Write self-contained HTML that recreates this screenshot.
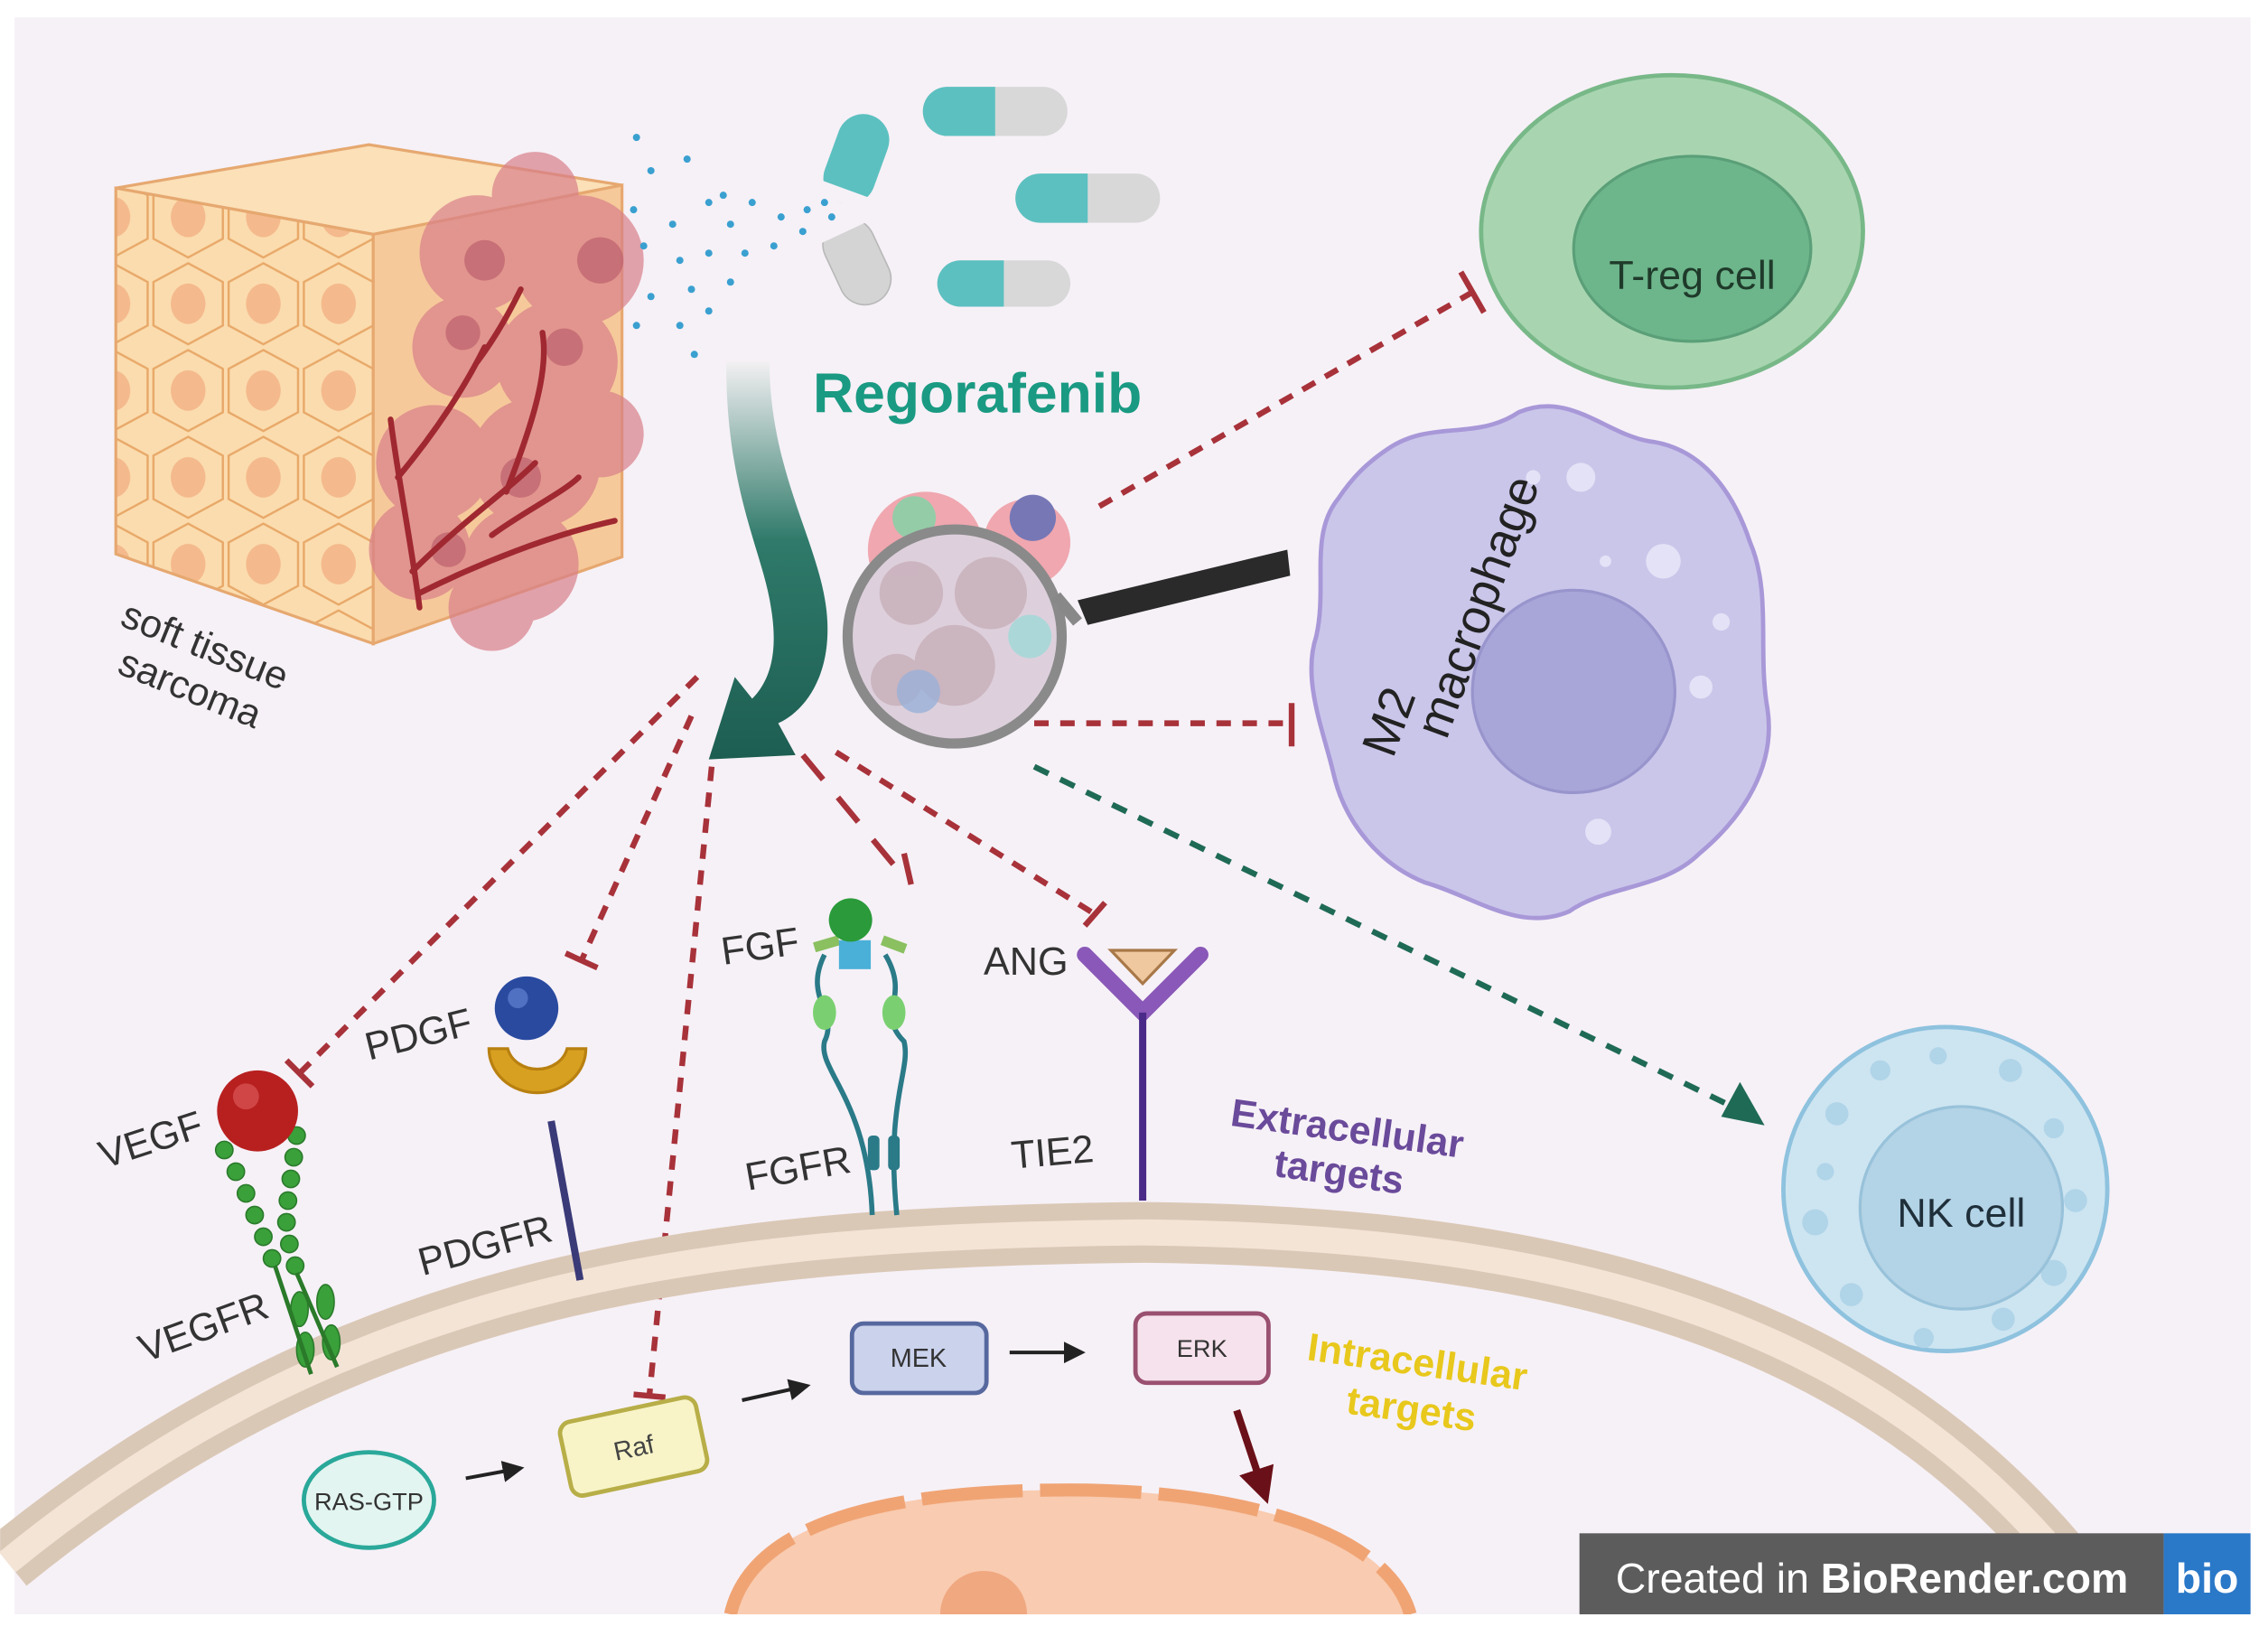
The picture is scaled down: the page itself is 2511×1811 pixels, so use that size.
<!DOCTYPE html>
<html><head><meta charset="utf-8"><style>
html,body{margin:0;padding:0;background:#fff;}
svg{display:block;}
text{font-family:"Liberation Sans",sans-serif;}
</style></head><body>
<svg width="2511" height="1811" viewBox="0 0 1568 1131" xmlns="http://www.w3.org/2000/svg">
<defs>
<clipPath id="pan"><rect x="0" y="12" width="1556" height="1104"/></clipPath>
<linearGradient id="arr" x1="0" y1="0" x2="0" y2="1">
<stop offset="0" stop-color="#f2f0f2"/><stop offset="0.45" stop-color="#2f7a6a"/><stop offset="1" stop-color="#1d5e52"/></linearGradient>
<pattern id="hex" width="52" height="60" patternUnits="userSpaceOnUse">
<rect width="52" height="60" fill="#fbdcae"/>
<polygon points="26,2 50,15 50,45 26,58 2,45 2,15" fill="none" stroke="#e8a868" stroke-width="1.5"/>
<ellipse cx="26" cy="30" rx="12" ry="14" fill="#f4b98c"/>
</pattern>
<marker id="ba" markerWidth="6" markerHeight="6" refX="5" refY="3" orient="auto" markerUnits="strokeWidth"><path d="M0,0 L6,3 L0,6z" fill="#222"/></marker>
<marker id="ra" markerWidth="5" markerHeight="5" refX="4" refY="2.5" orient="auto" markerUnits="strokeWidth"><path d="M0,0 L5,2.5 L0,5z" fill="#6a1018"/></marker>
</defs>
<rect x="0" y="0" width="1568" height="1131" fill="#fff"/>
<rect x="10" y="12" width="1546" height="1104" fill="#f6f1f7"/>

<!-- cube -->
<polygon points="80,130 255,100 430,128 258,162" fill="#fbe0b8" stroke="#e6a870" stroke-width="2"/>
<polygon points="80,130 258,162 258,445 80,383" fill="url(#hex)" stroke="#e6a870" stroke-width="2"/>
<polygon points="258,162 430,128 430,385 258,445" fill="#f6c99a" stroke="#e6a870" stroke-width="2"/>
<g fill="#d9808a" opacity="0.7">
<circle cx="330" cy="175" r="40"/><circle cx="400" cy="180" r="45"/><circle cx="320" cy="240" r="35"/><circle cx="385" cy="250" r="42"/>
<circle cx="300" cy="320" r="40"/><circle cx="370" cy="320" r="45"/><circle cx="290" cy="380" r="35"/><circle cx="360" cy="390" r="40"/>
<circle cx="340" cy="420" r="30"/><circle cx="415" cy="300" r="30"/><circle cx="370" cy="135" r="30"/></g>
<g fill="#b85868" opacity="0.6"><circle cx="335" cy="180" r="14"/><circle cx="415" cy="180" r="16"/><circle cx="390" cy="240" r="13"/><circle cx="320" cy="230" r="12"/><circle cx="360" cy="330" r="14"/><circle cx="310" cy="380" r="12"/></g>
<g stroke="#a02830" stroke-width="4" fill="none" stroke-linecap="round">
<path d="M290,420 C285,380 275,330 270,290"/><path d="M285,395 C320,360 350,340 370,320"/><path d="M290,410 C330,390 380,370 425,360"/>
<path d="M340,370 C360,355 390,340 400,330"/><path d="M275,330 C300,300 320,270 335,240"/><path d="M350,340 C365,300 380,260 375,230"/><path d="M330,250 C345,230 355,210 360,200"/></g>
<text transform="translate(82,432) rotate(22)" font-size="27" fill="#333">soft tissue</text>
<text transform="translate(80,465) rotate(22)" font-size="27" fill="#333">sarcoma</text>

<!-- spray dots -->
<g fill="#3aa0d0">
<circle cx="440" cy="95" r="2.5"/><circle cx="450" cy="118" r="2.5"/><circle cx="475" cy="110" r="2.5"/><circle cx="438" cy="145" r="2.5"/><circle cx="465" cy="155" r="2.5"/><circle cx="490" cy="140" r="2.5"/><circle cx="505" cy="155" r="2.5"/><circle cx="520" cy="140" r="2.5"/><circle cx="540" cy="150" r="2.5"/><circle cx="558" cy="145" r="2.5"/><circle cx="570" cy="140" r="2.5"/><circle cx="575" cy="150" r="2.5"/><circle cx="445" cy="170" r="2.5"/><circle cx="470" cy="180" r="2.5"/><circle cx="490" cy="175" r="2.5"/><circle cx="515" cy="175" r="2.5"/><circle cx="535" cy="170" r="2.5"/><circle cx="555" cy="160" r="2.5"/><circle cx="450" cy="205" r="2.5"/><circle cx="478" cy="200" r="2.5"/><circle cx="505" cy="195" r="2.5"/><circle cx="470" cy="225" r="2.5"/><circle cx="490" cy="215" r="2.5"/><circle cx="480" cy="245" r="2.5"/><circle cx="440" cy="225" r="2.5"/><circle cx="500" cy="135" r="2.5"/></g>

<!-- capsules -->
<g transform="translate(592,110) rotate(20)"><rect x="-18" y="-32" width="36" height="64" rx="18" fill="#5cc0c0"/><rect x="-18" y="22" width="36" height="10" fill="#f6f1f7"/></g>
<g transform="translate(592,180) rotate(-25)"><rect x="-18" y="-30" width="36" height="62" rx="18" fill="#d4d4d4" stroke="#b8b8b8"/><rect x="-19" y="-31" width="38" height="10" fill="#f6f1f7"/></g>
<g><rect x="638" y="60" width="100" height="34" rx="17" fill="#d8d8d8"/><path d="M655,60 H688 V94 H655 A17,17 0 0 1 655,60z" fill="#5cc0c0"/></g>
<g><rect x="702" y="120" width="100" height="34" rx="17" fill="#d8d8d8"/><path d="M719,120 H752 V154 H719 A17,17 0 0 1 719,120z" fill="#5cc0c0"/></g>
<g><rect x="648" y="180" width="92" height="32" rx="16" fill="#d8d8d8"/><path d="M664,180 H694 V212 H664 A16,16 0 0 1 664,180z" fill="#5cc0c0"/></g>
<text x="562" y="285" font-size="39" font-weight="bold" fill="#1a9a82">Regorafenib</text>

<!-- curved arrow -->
<path d="M502,250 L532,250 C532,330 570,380 572,430 C574,475 550,495 538,500 L550,522 L490,525 L508,468 L520,483 C533,470 538,450 533,420 C527,380 502,340 502,250z" fill="url(#arr)"/>

<!-- magnifier -->
<g opacity="0.9"><circle cx="640" cy="380" r="40" fill="#f0a0a8"/><circle cx="710" cy="375" r="30" fill="#f0a0a8"/><circle cx="632" cy="358" r="15" fill="#8ac8a0"/><circle cx="714" cy="358" r="16" fill="#6a6ab0"/></g>
<circle cx="660" cy="440" r="74" fill="#ddd0dc" stroke="#8a8a8a" stroke-width="7"/>
<g fill="#c4aab4" opacity="0.7"><circle cx="630" cy="410" r="22"/><circle cx="685" cy="410" r="25"/><circle cx="660" cy="460" r="28"/><circle cx="620" cy="470" r="18"/></g>
<circle cx="712" cy="440" r="15" fill="#a0d8d8" opacity="0.8"/><circle cx="635" cy="478" r="15" fill="#9ab0d8" opacity="0.8"/>
<path d="M730,412 L745,430" stroke="#888" stroke-width="8"/>
<path d="M745,415 L890,380 L892,398 L752,432z" fill="#2a2a2a"/>

<!-- T-reg -->
<ellipse cx="1156" cy="160" rx="132" ry="108" fill="#a8d5b0" stroke="#78b888" stroke-width="3"/>
<ellipse cx="1170" cy="172" rx="82" ry="64" fill="#6db58b" stroke="#5a9f78" stroke-width="2"/>
<text x="1170" y="200" font-size="28" text-anchor="middle" fill="#1f3a2a">T-reg cell</text>

<!-- M2 macrophage -->
<path d="M960,310 C990,290 1020,305 1050,285 C1085,270 1110,300 1140,305 C1180,310 1200,345 1210,375 C1225,410 1215,450 1222,490 C1228,530 1205,565 1175,590 C1150,615 1110,612 1085,630 C1050,645 1020,620 985,610 C955,598 930,570 922,535 C915,505 900,470 910,440 C918,405 905,370 925,345 C935,330 945,320 960,310z" fill="#cac6ea" stroke="#a898d8" stroke-width="3"/>
<g fill="#e4e2f6"><circle cx="1093" cy="330" r="10"/><circle cx="1150" cy="388" r="12"/><circle cx="1176" cy="475" r="8"/><circle cx="1105" cy="575" r="9"/><circle cx="1060" cy="330" r="5"/><circle cx="1190" cy="430" r="6"/><circle cx="1110" cy="388" r="4"/></g>
<circle cx="1088" cy="478" r="70" fill="#a8a5d8" stroke="#9894cc" stroke-width="2"/>
<text transform="translate(963,525) rotate(-70)" font-size="34" fill="#222">M2</text>
<text transform="translate(1000,512) rotate(-70)" font-size="34" fill="#222">macrophage</text>

<!-- NK cell -->
<circle cx="1345" cy="822" r="112" fill="#cde5f1" stroke="#8ec2de" stroke-width="3"/>
<g fill="#b0d4e8"><circle cx="1270" cy="770" r="8"/><circle cx="1300" cy="740" r="7"/><circle cx="1340" cy="730" r="6"/><circle cx="1390" cy="740" r="8"/><circle cx="1420" cy="780" r="7"/><circle cx="1435" cy="830" r="8"/><circle cx="1420" cy="880" r="9"/><circle cx="1385" cy="912" r="8"/><circle cx="1330" cy="925" r="7"/><circle cx="1280" cy="895" r="8"/><circle cx="1255" cy="845" r="9"/><circle cx="1262" cy="810" r="6"/></g>
<circle cx="1356" cy="835" r="70" fill="#b3d3e6" stroke="#98c2da" stroke-width="2"/>
<text x="1356" y="848" font-size="28" text-anchor="middle" fill="#1f2f3a">NK cell</text>

<!-- dashed inhibitory lines -->
<g stroke="#a8323a" stroke-width="4" fill="none" stroke-dasharray="10,8">
<path d="M760,350 L1018,202"/><path d="M715,500 L890,500"/>
<path d="M482,468 L207,742"/><path d="M478,495 L402,664"/><path d="M492,530 L449,964"/>
<path d="M578,520 L757,632"/></g>
<path d="M555,522 L618,598 M625,590 L630,612" stroke="#a8323a" stroke-width="4" stroke-dasharray="22,16" fill="none"/>
<g stroke="#a8323a" stroke-width="4">
<path d="M1010,188 L1026,216"/><path d="M893,486 L893,516"/><path d="M198,733 L216,751"/><path d="M391,659 L413,669"/><path d="M438,964 L460,966"/><path d="M750,640 L764,624"/></g>
<path d="M715,530 L1212,772" stroke="#1f6a55" stroke-width="4" stroke-dasharray="11,9" fill="none"/>
<path d="M1220,778 L1190,772 L1203,748z" fill="#1f6a55"/>

<g clip-path="url(#pan)">
<!-- membrane -->
<path d="M5,1080 C250,880 500,855 790,852 C1100,855 1310,920 1450,1110" fill="none" stroke="#dac8b6" stroke-width="42"/>
<path d="M5,1080 C250,880 500,855 790,852 C1100,855 1310,920 1450,1110" fill="none" stroke="#f4e4d6" stroke-width="18"/>
<!-- nucleus -->
<path d="M505,1116 C520,1050 620,1030 740,1030 C860,1030 960,1060 975,1116z" fill="#f9cbb0"/>
<path d="M505,1116 C520,1050 620,1030 740,1030 C860,1030 960,1060 975,1116" fill="none" stroke="#f0a474" stroke-width="9" stroke-dasharray="70,12"/>
<circle cx="680" cy="1116" r="30" fill="#f0a880"/>
</g>

<!-- receptors -->
<g fill="#3aa03a" stroke="#2a7a2a" stroke-width="1">
<circle cx="155" cy="795" r="6"/><circle cx="163" cy="810" r="6"/><circle cx="170" cy="825" r="6"/><circle cx="176" cy="840" r="6"/><circle cx="182" cy="855" r="6"/><circle cx="188" cy="870" r="6"/>
<circle cx="205" cy="785" r="6"/><circle cx="203" cy="800" r="6"/><circle cx="201" cy="815" r="6"/><circle cx="199" cy="830" r="6"/><circle cx="198" cy="845" r="6"/><circle cx="200" cy="860" r="6"/><circle cx="204" cy="875" r="6"/>
<ellipse cx="207" cy="905" rx="6" ry="12"/><ellipse cx="211" cy="933" rx="6" ry="12"/><ellipse cx="225" cy="900" rx="6" ry="12"/><ellipse cx="229" cy="928" rx="6" ry="12"/></g>
<path d="M190,875 L215,950 M205,880 L233,945" stroke="#2a7a2a" stroke-width="3"/>
<circle cx="178" cy="768" r="28" fill="#b82020"/><circle cx="170" cy="758" r="9" fill="#e06060" opacity="0.6"/>
<path d="M338,725 A33,30 0 0 0 405,725 L392,725 A21,18 0 0 1 351,725z" fill="#d8a020" stroke="#b88010" stroke-width="2"/>
<circle cx="364" cy="697" r="22" fill="#2a4aa0"/><circle cx="358" cy="690" r="7" fill="#6a8ad8" opacity="0.6"/>
<path d="M381,775 L401,885" stroke="#3a3a78" stroke-width="5"/>
<path d="M570,660 C555,690 580,700 570,720 C565,740 600,760 603,840 M612,660 C630,690 605,700 625,720 C630,740 612,760 620,840" stroke="#2a7a88" stroke-width="3.5" fill="none"/>
<path d="M563,655 L580,650 M610,650 L626,656" stroke="#8ac060" stroke-width="7"/>
<rect x="580" y="650" width="22" height="20" fill="#4ab0d8"/>
<ellipse cx="570" cy="700" rx="8" ry="12" fill="#7ad070"/><ellipse cx="618" cy="700" rx="8" ry="12" fill="#7ad070"/>
<rect x="600" y="785" width="8" height="24" rx="3" fill="#2a7a88"/><rect x="614" y="785" width="8" height="24" rx="3" fill="#2a7a88"/>
<circle cx="588" cy="636" r="15" fill="#2a9a3a"/>
<path d="M750,660 L790,700 L830,660" stroke="#8a58b8" stroke-width="11" fill="none" stroke-linecap="round"/>
<path d="M790,700 L790,830" stroke="#4a2a88" stroke-width="5"/>
<path d="M768,657 L812,657 L790,680z" fill="#f0c8a0" stroke="#a87848" stroke-width="2"/>

<!-- labels -->
<text transform="translate(72,808) rotate(-18)" font-size="27" fill="#333">VEGF</text>
<text transform="translate(255,733) rotate(-14)" font-size="27" fill="#333">PDGF</text>
<text transform="translate(500,667) rotate(-8)" font-size="27" fill="#333">FGF</text>
<text x="680" y="674" font-size="27" fill="#333">ANG</text>
<text transform="translate(517,823) rotate(-10)" font-size="27" fill="#333">FGFR</text>
<text transform="translate(700,808) rotate(-5)" font-size="27" fill="#333">TIE2</text>
<text transform="translate(292,882) rotate(-15)" font-size="27" fill="#333">PDGFR</text>
<text transform="translate(100,942) rotate(-20)" font-size="27" fill="#333">VEGFR</text>
<text transform="translate(850,778) rotate(8)" font-size="27" font-weight="bold" fill="#6a4a9a">Extracellular</text>
<text transform="translate(880,813) rotate(8)" font-size="27" font-weight="bold" fill="#6a4a9a">targets</text>
<text transform="translate(903,940) rotate(8)" font-size="27" font-weight="bold" fill="#e8c81c">Intracellular</text>
<text transform="translate(930,977) rotate(8)" font-size="27" font-weight="bold" fill="#e8c81c">targets</text>

<!-- pathway -->
<ellipse cx="255" cy="1037" rx="45" ry="33" fill="#e2f5f0" stroke="#2aa89a" stroke-width="3"/>
<text x="255" y="1044" font-size="17" text-anchor="middle" fill="#333">RAS-GTP</text>
<g transform="translate(438,1000) rotate(-12)"><rect x="-48" y="-26" width="96" height="52" rx="8" fill="#f8f4c8" stroke="#b8ae48" stroke-width="3"/><text x="0" y="7" font-size="18" text-anchor="middle" fill="#444">Raf</text></g>
<rect x="589" y="915" width="93" height="48" rx="8" fill="#cad2ec" stroke="#56689e" stroke-width="3"/>
<text x="635" y="945" font-size="18" text-anchor="middle" fill="#333">MEK</text>
<rect x="785" y="908" width="92" height="48" rx="8" fill="#f6e2ec" stroke="#9a5070" stroke-width="3"/>
<text x="831" y="938" font-size="17" text-anchor="middle" fill="#333">ERK</text>
<g stroke="#222" stroke-width="2.5" fill="none">
<path d="M322,1022 L360,1015" marker-end="url(#ba)"/><path d="M513,968 L558,958" marker-end="url(#ba)"/><path d="M698,935 L748,935" marker-end="url(#ba)"/></g>
<path d="M855,975 L875,1035" stroke="#6a1018" stroke-width="5" marker-end="url(#ra)"/>

<!-- BioRender badge -->
<rect x="1092" y="1060" width="404" height="56" fill="#5c5c5c"/>
<rect x="1496" y="1060" width="60" height="56" fill="#2a78c8"/>
<text x="1117" y="1101" font-size="29" fill="#fff">Created in <tspan font-weight="bold">BioRender.com</tspan></text>
<text x="1526" y="1101" font-size="29" font-weight="bold" fill="#fff" text-anchor="middle">bio</text>
</svg>
</body></html>
